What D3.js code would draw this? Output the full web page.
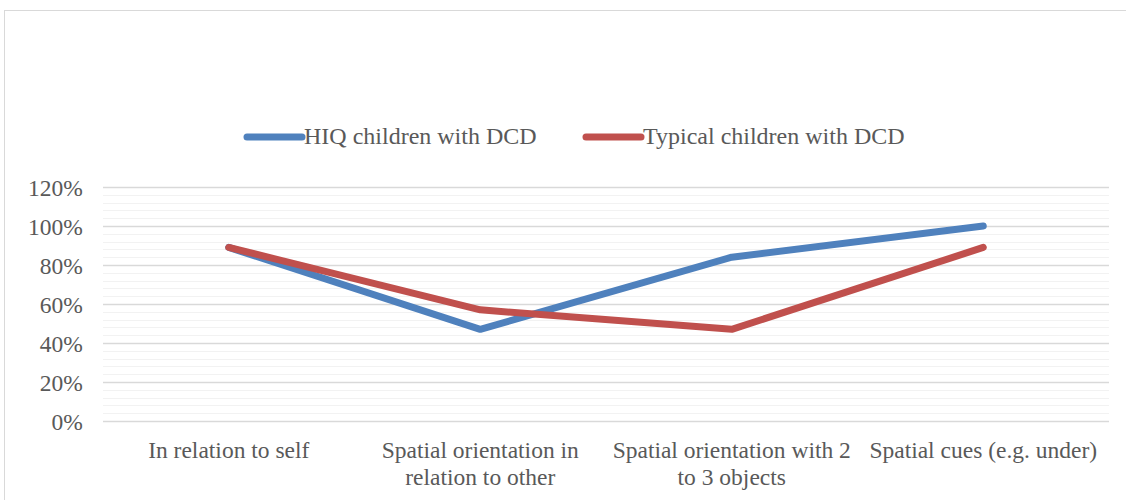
<!DOCTYPE html>
<html><head><meta charset="utf-8">
<script src="https://cdn.jsdelivr.net/npm/d3@7"></script>
<style>html,body{margin:0;padding:0;background:#fff;}svg{display:block;}
svg text{font-family:"Liberation Serif","Times New Roman",Times,"DejaVu Serif",serif;}</style>
</head><body>
<svg id="chart" width="1126" height="500"></svg>
<script>
const categories = ["In relation to self", "Spatial orientation in relation to other", "Spatial orientation with 2 to 3 objects", "Spatial cues (e.g. under)"];
const categoryLines = [["In relation to self"], ["Spatial orientation in", "relation to other"], ["Spatial orientation with 2", "to 3 objects"], ["Spatial cues (e.g. under)"]];
const seriesNames = ["HIQ children with DCD", "Typical children with DCD"];
const hiqValues = [0.89, 0.47, 0.84, 1.00];
const typicalValues = [0.89, 0.57, 0.47, 0.89];
const yTicks = [0, 0.2, 0.4, 0.6, 0.8, 1.0, 1.2];
const colors = ["#4F81BD", "#C0504D"];

(function () {
const svg = d3.select("#chart");
const textColor = "#595959";

// chart frame
svg.append("rect").attr("x", 4.5).attr("y", 10.5).attr("width", 1200).attr("height", 600)
  .attr("fill", "#fff").attr("stroke", "#D9D9D9").attr("stroke-width", 1);

const pLeft = 103, pRight = 1109, pTop = 187, pBottom = 421;
const x = d3.scalePoint().domain(categories).range([pLeft, pRight]).padding(0.5);
const y = d3.scaleLinear().domain([0, 1.2]).range([pBottom, pTop]);

// minor gridlines
const minor = d3.range(0, 1.2001, 0.04).filter(v => Math.abs(Math.round(v * 5) - v * 5) > 1e-6);
svg.append("g").selectAll("line").data(minor).join("line")
  .attr("x1", pLeft).attr("x2", pRight)
  .attr("y1", d => Math.round(y(d)) + 0.5).attr("y2", d => Math.round(y(d)) + 0.5)
  .attr("stroke", "#F2F2F2").attr("stroke-width", 1);

// y axis
const yAxis = d3.axisLeft(y).tickValues(yTicks).tickFormat(d3.format(".0%")).tickSize(0).tickPadding(20);
const gy = svg.append("g").attr("transform", `translate(${pLeft},0)`).call(yAxis);
gy.select(".domain").remove();
gy.attr("font-family", null).attr("font-size", null);
gy.selectAll("text").style("font-size", "23.5px").attr("fill", textColor)
  .attr("x", 82.7 - pLeft).attr("dy", "0.36em");
// major gridlines
svg.append("g").selectAll("line").data(yTicks).join("line")
  .attr("x1", pLeft).attr("x2", pRight)
  .attr("y1", d => Math.round(y(d)) + 0.5).attr("y2", d => Math.round(y(d)) + 0.5)
  .attr("stroke", "#D9D9D9").attr("stroke-width", 1.3);

// x axis labels
const xAxis = d3.axisBottom(x).tickSize(0).tickFormat("");
const gx = svg.append("g").attr("transform", `translate(0,${pBottom})`).call(xAxis);
gx.select(".domain").remove();
const lbl = svg.append("g");
categories.forEach((c, i) => {
  const t = lbl.append("text").attr("x", x(c)).attr("y", 458).attr("text-anchor", "middle")
    .style("font-size", "23.5px").attr("fill", textColor);
  categoryLines[i].forEach((ln, j) => {
    t.append("tspan").attr("x", x(c)).attr("dy", j === 0 ? 0 : 26.5).text(ln);
  });
});

// lines
const line = d3.line().x((d, i) => x(categories[i])).y(d => y(d));
[hiqValues, typicalValues].forEach((vals, k) => {
  svg.append("path").datum(vals).attr("d", line).attr("fill", "none")
    .attr("stroke", colors[k]).attr("stroke-width", 7)
    .attr("stroke-linecap", "round").attr("stroke-linejoin", "round");
});

// legend
const legendItems = [{x1: 247, x2: 302, tx: 304}, {x1: 586, x2: 641, tx: 643}];
seriesNames.forEach((n, k) => {
  const it = legendItems[k];
  svg.append("line").attr("x1", it.x1).attr("x2", it.x2).attr("y1", 137).attr("y2", 137)
    .attr("stroke", colors[k]).attr("stroke-width", 7).attr("stroke-linecap", "round");
  svg.append("text").attr("x", it.tx).attr("y", 143.5)
    .style("font-size", "24px").attr("fill", textColor).text(n);
});
})();
</script>
</body></html>
